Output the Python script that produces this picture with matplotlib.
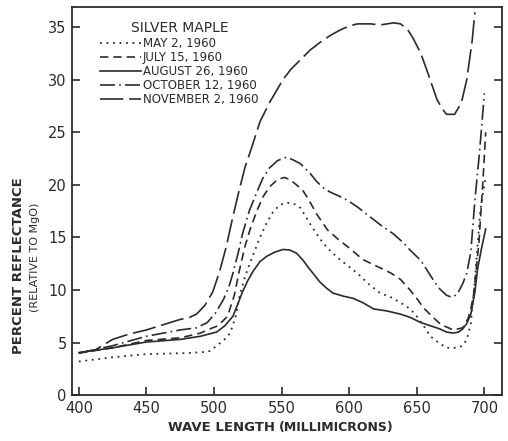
import matplotlib.pyplot as plt

# wavelength (millimicrons) / percent reflectance
may_x = [400, 425, 450, 480, 492, 497, 502, 507, 512, 516, 519, 523, 527, 534, 539,
         544, 549, 554, 559, 564, 570, 576, 581, 587, 593, 606, 615, 623, 631, 638,
         645, 650, 655, 660, 666, 672, 680, 684, 687, 690, 693, 697, 701]
may_y = [3.2, 3.6, 3.9, 4.0, 4.1, 4.2, 4.7, 5.2, 5.9, 7.5, 9.5, 11.3, 12.7, 15.0, 16.4,
         17.5, 18.1, 18.3, 18.2, 17.8, 16.5, 15.3, 14.4, 13.6, 12.9, 11.6, 10.5, 9.7, 9.3, 8.8,
         8.2, 7.5, 6.6, 5.6, 5.0, 4.5, 4.5, 4.7, 5.3, 6.8, 11.0, 17.5, 20.8]

jul_x = [400, 425, 450, 475, 490, 497, 503, 510, 515, 519, 523, 527, 532, 536, 541,
         547, 552, 556, 561, 566, 570, 576, 584, 592, 599, 610, 623, 631, 638, 645,
         650, 655, 662, 668, 677, 684, 688, 690, 692, 694, 696, 699, 701]
jul_y = [4.0, 4.5, 5.2, 5.45, 5.9, 6.3, 6.6, 7.5, 9.5, 12.0, 14.2, 15.9, 17.6, 18.8, 19.8,
         20.5, 20.7, 20.5, 20.0, 19.4, 18.6, 17.2, 15.7, 14.8, 14.1, 12.9, 12.1, 11.6, 11.0, 10.0,
         9.2, 8.3, 7.4, 6.7, 6.2, 6.4, 7.3, 8.2, 9.5, 12.0, 14.5, 20.4, 25.0]

aug_x = [400, 425, 450, 475, 490, 502, 508, 514, 518, 521, 525, 529, 534, 539, 545,
         551, 556, 561, 566, 570, 575, 578, 583, 588, 596, 603, 610, 614, 618, 628,
         638, 645, 653, 660, 667, 672, 677, 681, 684, 687, 690, 693, 695, 698, 701]
aug_y = [4.05, 4.5, 5.05, 5.3, 5.6, 6.0, 6.6, 7.5, 8.8, 9.8, 10.9, 11.8, 12.7, 13.2, 13.6,
         13.85, 13.8, 13.5, 12.8, 12.1, 11.3, 10.8, 10.2, 9.7, 9.4, 9.2, 8.8, 8.5, 8.2, 8.0,
         7.7, 7.4, 6.9, 6.6, 6.3, 6.0, 5.9, 6.0, 6.3, 6.8, 7.7, 9.8, 12.0, 14.0, 15.8]

oct_x = [400, 425, 450, 475, 487, 495, 501, 507, 511, 514, 518, 521, 526, 532, 536,
         541, 547, 553, 558, 564, 571, 576, 581, 586, 593, 599, 606, 613, 623, 633,
         640, 645, 653, 658, 663, 667, 672, 676, 680, 684, 687, 690, 693, 696, 698, 700]
oct_y = [4.0, 4.7, 5.6, 6.2, 6.4, 6.9, 7.8, 9.1, 10.3, 11.6, 13.6, 15.3, 17.5, 19.4, 20.6,
         21.6, 22.3, 22.6, 22.4, 22.0, 21.1, 20.3, 19.7, 19.3, 18.9, 18.5, 17.9, 17.2, 16.2, 15.3,
         14.5, 13.8, 12.8, 11.8, 10.8, 10.1, 9.5, 9.3, 9.6, 10.6, 11.6, 13.6, 18.5, 22.5, 25.5, 28.7]

nov_x = [400, 412, 425, 437, 450, 465, 475, 482, 487, 493, 499, 504, 509, 514, 519,
         523, 528, 534, 541, 551, 557, 564, 571, 578, 586, 593, 600, 606, 616, 623,
         633, 638, 643, 647, 653, 658, 665, 669, 672, 678, 683, 687, 691, 693]
nov_y = [4.0, 4.3, 5.3, 5.8, 6.2, 6.8, 7.2, 7.4, 7.7, 8.5, 9.8, 11.7, 14.1, 17.0, 19.7,
         21.7, 23.6, 26.0, 27.8, 30.0, 31.0, 31.9, 32.8, 33.5, 34.2, 34.7, 35.1, 35.3, 35.3, 35.2,
         35.4, 35.3, 34.8, 34.0, 32.5, 30.7, 28.1, 27.2, 26.7, 26.7, 27.8, 30.0, 33.7, 36.4]

labels = ['MAY 2, 1960', 'JULY 15, 1960', 'AUGUST 26, 1960',
          'OCTOBER 12, 1960', 'NOVEMBER 2, 1960']

ink = '#2b2b2b'
fig = plt.figure(figsize=(5.08, 4.41), dpi=100)
ax = fig.add_axes([0.142, 0.104, 0.846, 0.880])

kw = dict(color=ink, lw=1.2, solid_joinstyle='round', dash_joinstyle='round')
ax.plot(may_x, may_y, linestyle=(0, (1, 2.6)), label=labels[0], **{**kw, 'lw': 1.3})
ax.plot(jul_x, jul_y, linestyle=(0, (5, 3)), label=labels[1], **kw)
ax.plot(aug_x, aug_y, linestyle='-', label=labels[2], **kw)
ax.plot(oct_x, oct_y, linestyle=(0, (9, 2.5, 1, 2.5)), label=labels[3], **kw)
ax.plot(nov_x, nov_y, linestyle=(0, (14, 3.5)), label=labels[4], **kw)

ax.set_xlim(395, 713)
ax.set_ylim(0.4, 36.9)
ax.set_xticks(range(400, 701, 50))
ax.set_yticks(range(0, 36, 5))
ax.tick_params(direction='in', length=6, width=1.2, labelsize=10.5, colors=ink,
               right=True, top=False, pad=4)
for s in ax.spines.values():
    s.set_linewidth(1.3)
    s.set_color(ink)

leg = ax.legend(loc='upper left', bbox_to_anchor=(0.055, 0.975), frameon=False,
                title='SILVER MAPLE', fontsize=8.5, handlelength=3.4,
                handletextpad=0.2, labelspacing=0.1, borderaxespad=0)
leg.get_title().set_fontsize(10)
leg.get_title().set_color(ink)
for t in leg.get_texts():
    t.set_color(ink)

fig.text(0.037, 0.397, 'PERCENT REFLECTANCE', rotation=90, ha='center', va='center',
         fontsize=9.5, fontweight='bold', color=ink)
fig.text(0.069, 0.417, '(RELATIVE TO MgO)', rotation=90, ha='center', va='center',
         fontsize=8, color=ink)
fig.text(0.541, 0.030, 'WAVE LENGTH', ha='right', va='center',
         fontsize=9.5, fontweight='bold', color=ink)
fig.text(0.549, 0.030, '(MILLIMICRONS)', ha='left', va='center',
         fontsize=9, fontweight='bold', color=ink)

fig.savefig('out.png', dpi=100)
